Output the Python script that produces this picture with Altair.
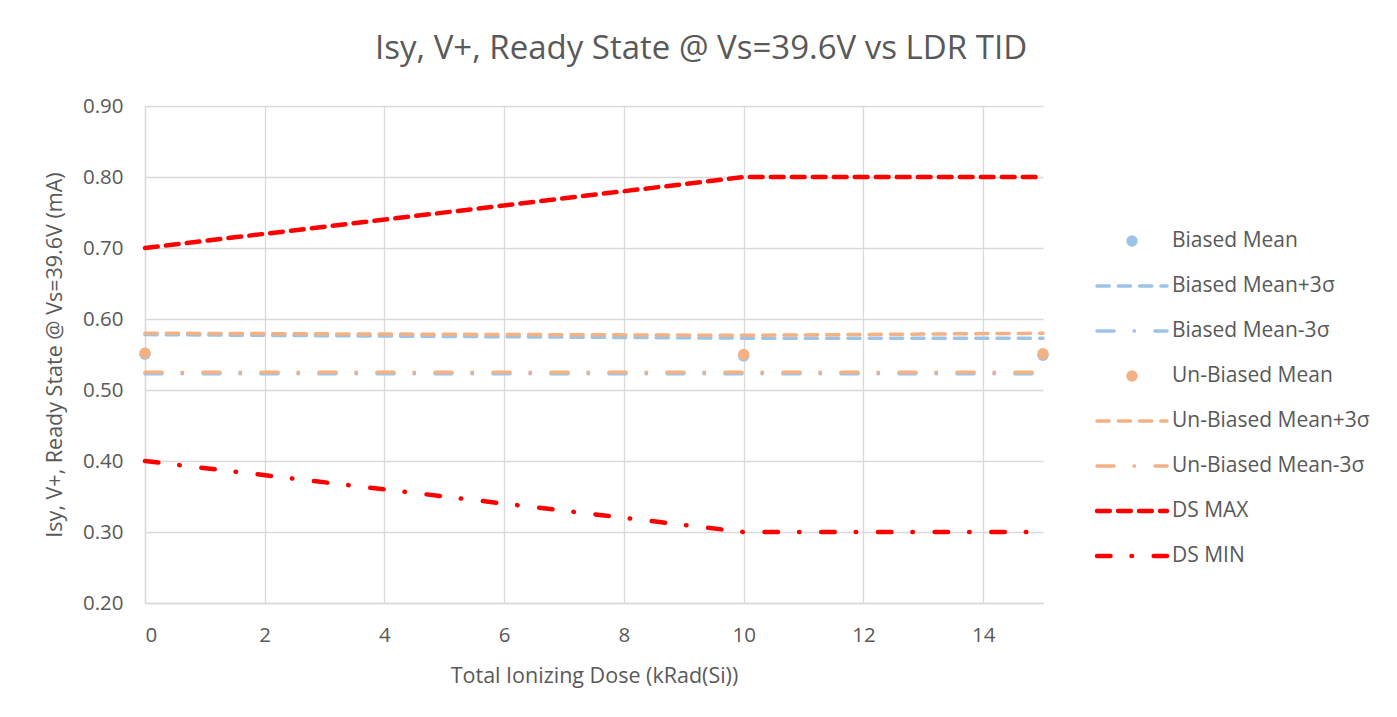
import altair as alt
import pandas as pd

# ---------------- data ----------------
dose = [0, 10, 15]
biased_mean = [0.5505, 0.548, 0.549]
biased_plus = [0.578, 0.573, 0.573]
biased_minus = [0.523, 0.523, 0.523]
unbiased_mean = [0.552, 0.550, 0.551]
unbiased_plus = [0.580, 0.577, 0.580]
unbiased_minus = [0.525, 0.525, 0.525]
ds_max = [0.70, 0.80, 0.80]
ds_min = [0.40, 0.30, 0.30]

series_names = [
    "Biased Mean", "Biased Mean+3σ", "Biased Mean-3σ",
    "Un-Biased Mean", "Un-Biased Mean+3σ", "Un-Biased Mean-3σ",
    "DS MAX", "DS MIN",
]
series_values = [biased_mean, biased_plus, biased_minus,
                 unbiased_mean, unbiased_plus, unbiased_minus,
                 ds_max, ds_min]
x_ticks = [0, 2, 4, 6, 8, 10, 12, 14]
y_ticks = [0.2, 0.3, 0.4, 0.5, 0.6, 0.7, 0.8, 0.9]

rows = []
for name, vals in zip(series_names, series_values):
    for d, v in zip(dose, vals):
        rows.append({"series": name, "dose": d, "value": v})
df = pd.DataFrame(rows)

# ---------------- styles ----------------
BLUE = "#9DC3E6"
ORANGE = "#F4B183"
RED = "#FF0000"
TXT = "#595959"
GRID = "#D9D9D9"
FONT = "Open Sans"

DASH_THIN = [12.2, 9.1]
DASHDOT_THIN = [17, 20, 0.5, 20.5]
DASH_RED = [12.8, 8.2]
DASHDOT_RED = [13.5, 21, 0.5, 21.7]

styles = {
    "Biased Mean": dict(kind="point", color=BLUE),
    "Biased Mean+3σ": dict(kind="line", color=BLUE, dash=DASH_THIN, width=3.5),
    "Biased Mean-3σ": dict(kind="line", color=BLUE, dash=DASHDOT_THIN, width=3.5),
    "Un-Biased Mean": dict(kind="point", color=ORANGE),
    "Un-Biased Mean+3σ": dict(kind="line", color=ORANGE, dash=DASH_THIN, width=3.5),
    "Un-Biased Mean-3σ": dict(kind="line", color=ORANGE, dash=DASHDOT_THIN, width=3.5),
    "DS MAX": dict(kind="line", color=RED, dash=DASH_RED, width=4.5),
    "DS MIN": dict(kind="line", color=RED, dash=DASHDOT_RED, width=4.5),
}

X = alt.X("dose:Q",
          scale=alt.Scale(domain=[0, 15], nice=False, zero=False),
          axis=alt.Axis(values=x_ticks, format="d", titlePadding=20,
                        title="Total Ionizing Dose (kRad(Si))"))
Y = alt.Y("value:Q",
          scale=alt.Scale(domain=[0.2, 0.9], nice=False, zero=False),
          axis=alt.Axis(values=y_ticks, format=".2f", titlePadding=16,
                        title="Isy, V+, Ready State @ Vs=39.6V (mA)"))

base = alt.Chart(df)
layers = []
for name in series_names:
    st = styles[name]
    sub = base.transform_filter(alt.FieldEqualPredicate(field="series", equal=name))
    if st["kind"] == "point":
        m = sub.mark_circle(size=130, color=st["color"], opacity=1)
    else:
        m = sub.mark_line(color=st["color"], strokeDash=st["dash"],
                          strokeWidth=st["width"], strokeCap="round")
    layers.append(m.encode(x=X, y=Y))

main = alt.layer(*layers).properties(width=898, height=497)

# ---------------- legend panel ----------------
leg_df = pd.DataFrame({"series": series_names})
YL = alt.Y("series:N", sort=series_names,
           scale=alt.Scale(type="point", range=[135, 450], padding=0),
           axis=None)
leg_base = alt.Chart(leg_df)
leg_layers = []
for name in series_names:
    st = styles[name]
    sub = leg_base.transform_filter(alt.FieldEqualPredicate(field="series", equal=name))
    if st["kind"] == "point":
        m = sub.mark_circle(size=130, color=st["color"], opacity=1).encode(
            x=alt.value(60), y=YL)
    else:
        m = sub.mark_rule(color=st["color"], strokeDash=st["dash"],
                          strokeWidth=st["width"], strokeCap="round").encode(
            x=alt.value(25), x2=alt.value(95), y=YL)
    leg_layers.append(m)
leg_layers.append(
    leg_base.mark_text(align="left", baseline="middle", font=FONT,
                       fontSize=21, color=TXT).encode(
        x=alt.value(100), y=YL, text="series:N")
)
legend = alt.layer(*leg_layers).properties(width=278, height=497)

chart = alt.hconcat(main, legend, spacing=20).properties(
    title=alt.TitleParams("Isy, V+, Ready State @ Vs=39.6V vs LDR TID",
                          fontSize=33, font=FONT, color=TXT,
                          fontWeight="normal", anchor="middle", offset=30,
                          dx=-6),
    padding={"left": 36, "top": 25, "right": 5, "bottom": 5},
    background="white",
).configure_view(stroke=None).configure_axis(
    domainColor=GRID, domainWidth=1.3, gridColor=GRID, gridWidth=1.3,
    ticks=False, labelColor=TXT, labelFont=FONT, labelFontSize=20.5,
    labelPadding=22, titleColor=TXT, titleFont=FONT, titleFontSize=21.5,
    titleFontWeight="normal",
)

chart.save("out.html", embed_options={"renderer": "svg", "actions": False})
